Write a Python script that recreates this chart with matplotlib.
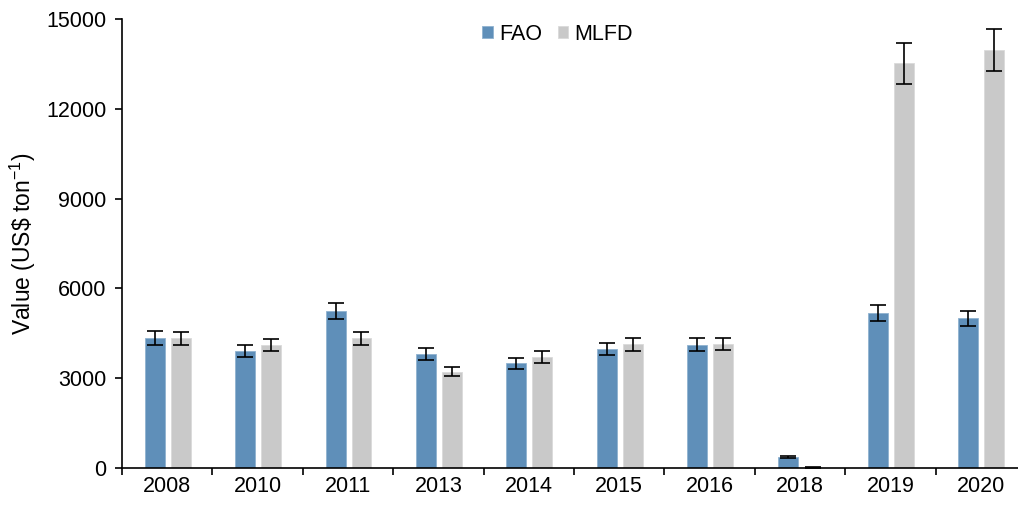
import matplotlib.pyplot as plt
import numpy as np

plt.rcParams['font.family'] = ['Liberation Sans', 'DejaVu Sans']
plt.rcParams['mathtext.default'] = 'regular'

years = ['2008', '2010', '2011', '2013', '2014', '2015', '2016', '2018', '2019', '2020']
fao = [4350, 3910, 5235, 3810, 3500, 3975, 4120, 370, 5180, 5000]
fao_err = [228, 200, 273, 190, 183, 210, 207, 25, 267, 250]
mlfd = [4335, 4110, 4335, 3220, 3710, 4130, 4145, 15, 13520, 13965]
mlfd_err = [223, 210, 223, 155, 195, 205, 210, 10, 680, 695]

fig = plt.figure(figsize=(10.18, 5.05), dpi=100)
ax = fig.add_axes([122/1018, 37/505, 904/1018, 449/505])

x = np.arange(len(years))
w = 0.22
ebar = dict(ecolor='black', elinewidth=1.2, capsize=6, capthick=1.2)
ax.bar(x - 0.137, fao, w, yerr=fao_err, color='#5f8fb9', edgecolor='#8fb2d0',
       linewidth=0.6, label='FAO', error_kw=ebar)
ax.bar(x + 0.149, mlfd, w, yerr=mlfd_err, color='#c9c9c9', edgecolor='#dadada',
       linewidth=0.6, label='MLFD', error_kw=ebar)

ax.set_xlim(-0.5, len(years) - 0.5)
ax.set_ylim(0, 15000)
ax.set_yticks([0, 3000, 6000, 9000, 12000, 15000])
ax.set_xticks(np.arange(-0.5, len(years), 1.0))
ax.set_xticklabels([])
ax.set_xticks(x, minor=True)
ax.set_xticklabels(years, minor=True)
ax.tick_params(axis='x', which='minor', length=0, pad=6, labelsize=15.5)
ax.tick_params(axis='x', which='major', length=5, width=1.2, direction='out')
ax.tick_params(axis='y', length=5, width=1.2, direction='out', labelsize=15.5, pad=6)

for s in ['top', 'right']:
    ax.spines[s].set_visible(False)
for s in ['left', 'bottom']:
    ax.spines[s].set_linewidth(1.2)

ax.set_ylabel(r'Value (US\$ ton$^{-1}$)', fontsize=16.5, labelpad=6)

ax.legend(loc='upper center', bbox_to_anchor=(0.482, 1.033), ncol=2, frameon=False,
          fontsize=15.5, handlelength=0.5, handleheight=0.5, handletextpad=0.3,
          columnspacing=0.7)

fig.savefig('out.png', dpi=100)
